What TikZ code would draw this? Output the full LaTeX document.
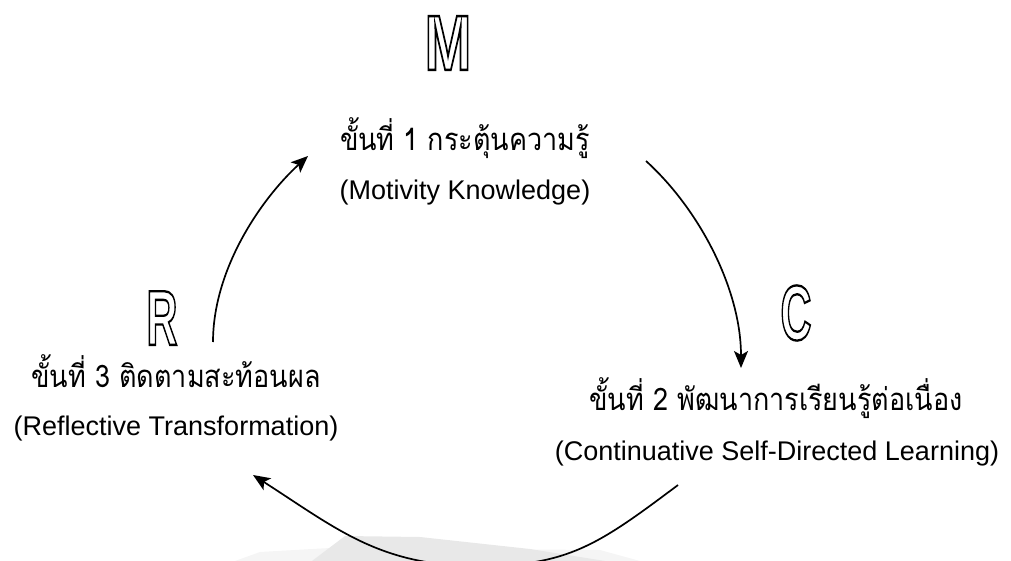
\documentclass[tikz,border=0pt]{standalone}
\usepackage{fontspec}
\setmainfont{Liberation Sans}
\newfontfamily\thaifont[Script=Thai]{Loma}
% stroked letter face: filled white, outlined in black
\newfontfamily\markfont[FakeBold=3]{Liberation Sans Bold}
\usetikzlibrary{arrows.meta}

\tikzset{
  thline/.style={anchor=base, inner sep=0pt, yscale=1.15, font=\thaifont\fontsize{27}{32}\selectfont},
  enline/.style={anchor=base, inner sep=0pt, font=\fontsize{27}{32}\selectfont},
  letter/.style={inner sep=0pt, font=\markfont\fontsize{78}{90}\selectfont},
  cycle arc/.style={line width=1.7pt, -{Stealth[length=17pt,width=14pt,inset=4pt]}},
}
\newcommand{\hollow}[1]{\color{white}\special{pdf:code 0 G}#1}

\begin{document}
\begin{tikzpicture}[x=1pt,y=-1pt]
\useasboundingbox (0,0) rectangle (1011,561);
\clip (0,0) rectangle (1011,561);

% faint grey smudge along the bottom edge
\fill[gray!8] (235,561) -- (260,552) -- (330,548) -- (600,550) -- (640,561) -- cycle;
\fill[gray!18] (312,561) -- (345,536) -- (420,537) -- (530,549) -- (605,561) -- cycle;

% stage labels
\node[thline] (s1th) at (465,151) {ขั้นที่ 1 กระตุ้นความรู้};
\node[enline] (s1en) at (465,200) {(Motivity Knowledge)};
\node[thline] (s2th) at (776,410) {ขั้นที่ 2 พัฒนาการเรียนรู้ต่อเนื่อง};
\node[enline] (s2en) at (777,460) {(Continuative Self-Directed Learning)};
\node[thline] (s3th) at (176,387) {ขั้นที่ 3 ติดตามสะท้อนผล};
\node[enline] (s3en) at (176,435) {(Reflective Transformation)};

% outlined initials
\node[letter, xscale=0.72] (lm) at (448,43) {\hollow{M}};
\node[letter, xscale=0.55] (lc) at (796,313) {\hollow{C}};
\node[letter, xscale=0.55] (lr) at (162,318) {\hollow{R}};

% arc end points
\coordinate (a1s) at (646,161);
\coordinate (a1e) at (741,368);
\coordinate (a2s) at (678,485);
\coordinate (a2m) at (478,566);
\coordinate (a2e) at (253,475);
\coordinate (a3s) at (213,342);
\coordinate (a3e) at (308,156);

% M -> C
\draw[cycle arc] (a1s) .. controls (700,210) and (741,290) .. (a1e);
% C -> R
\draw[cycle arc] (a2s) .. controls (598,545) and (568,566) .. (a2m)
                       .. controls (380,566) and (337,529) .. (a2e);
% R -> M
\draw[cycle arc] (a3s) .. controls (213,270) and (260,200) .. (a3e);
\end{tikzpicture}
\end{document}
